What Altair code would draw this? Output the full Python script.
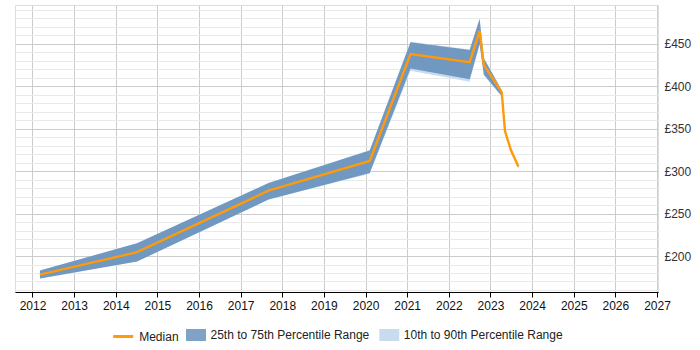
import altair as alt
import pandas as pd

# ---- data ----
years = [2012.18, 2014.51, 2017.67, 2020.10, 2021.08, 2022.50, 2022.74, 2022.84, 2023.27, 2023.35, 2023.49, 2023.67]
median = [178.0, 204.5, 277.0, 312.0, 438.0, 428.5, 465.5, 425.3, 393.2, 347.0, 325.0, 305.5]
p25 = [173.5, 193.5, 266.5, 298.0, 421.0, 408.5, 450.0, 414.0, 388.5, 345.5, 323.5, 304.0]
p75 = [183.0, 215.0, 286.0, 324.5, 452.0, 443.0, 479.5, 433.0, 395.5, 348.5, 326.5, 307.0]
p10 = [173.5, 193.5, 266.5, 297.0, 418.5, 405.5, 449.0, 413.0, 388.0, 345.0, 323.0, 303.5]
p90 = [183.0, 215.0, 286.0, 325.0, 452.5, 443.5, 480.0, 433.5, 396.0, 349.0, 327.0, 307.5]

x_ticks = list(range(2012, 2028))
y_grid = list(range(160, 491, 10))

series_names = ["Median", "25th to 75th Percentile Range", "10th to 90th Percentile Range"]
series_colors = ["#ff9a0a", "#4a7aae", "#c9dcef"]

df = pd.DataFrame({"year": years, "median": median, "p25": p25, "p75": p75, "p10": p10, "p90": p90})

FONT = "Liberation Sans"
RECT = "M-1,-0.6H1V0.6H-1Z"


def make_legend(x, sym_type, **kw):
    return alt.Legend(
        title=None,
        orient="none",
        legendX=x,
        legendY=320,
        direction="horizontal",
        symbolType=sym_type,
        symbolSize=400,
        labelFont=FONT,
        labelFontSize=12,
        labelColor="#222222",
        labelOffset=4.5,
        padding=0,
        **kw,
    )


x_scale = alt.Scale(domain=[2011.58, 2027.024], nice=False, zero=False)
x_axis = alt.Axis(
    title=None,
    values=x_ticks,
    format="d",
    labelFont=FONT,
    labelFontSize=12,
    labelColor="#111111",
    labelPadding=3,
    tickSize=5,
    tickColor="#000000",
    domainColor="#000000",
    gridColor="#cccccc",
    labelFlush=False,
    labelOverlap=False,
)

y_scale = alt.Scale(domain=[157.6, 495.9], nice=False, zero=False)
y_axis = alt.Axis(
    title=None,
    orient="right",
    values=y_grid,
    labelExpr="datum.value % 50 === 0 ? '£' + datum.value : ''",
    labelFont=FONT,
    labelFontSize=12,
    labelColor="#333333",
    labelPadding=6,
    ticks=False,
    domain=False,
    labelOverlap=False,
    gridColor={"condition": {"test": "datum.value % 50 === 0", "value": "#cccccc"}, "value": "#e9e9e9"},
)


def X():
    return alt.X("year:Q", scale=x_scale, axis=x_axis)


def Y(field):
    return alt.Y(field, scale=y_scale, axis=y_axis)


base = alt.Chart(df)

band90 = base.transform_calculate(series="'" + series_names[2] + "'").mark_area(opacity=1).encode(
    x=X(),
    y=Y("p10:Q"),
    y2="p90:Q",
    fill=alt.Fill(
        "series:N",
        scale=alt.Scale(domain=[series_names[2]], range=[series_colors[2]]),
        legend=make_legend(364.3, RECT, symbolStrokeWidth=0, symbolOpacity=1),
    ),
)

band50 = base.transform_calculate(series="'" + series_names[1] + "'").mark_area(opacity=0.7).encode(
    x=X(),
    y=Y("p25:Q"),
    y2="p75:Q",
    fill=alt.Fill(
        "series:N",
        scale=alt.Scale(domain=[series_names[1]], range=[series_colors[1]]),
        legend=make_legend(171.0, RECT, symbolStrokeWidth=0, symbolOpacity=0.7),
    ),
)

line = base.transform_calculate(series="'" + series_names[0] + "'").mark_line(strokeWidth=2.4).encode(
    x=X(),
    y=Y("median:Q"),
    stroke=alt.Stroke(
        "series:N",
        scale=alt.Scale(domain=[series_names[0]], range=[series_colors[0]]),
        legend=make_legend(96.7, "stroke", symbolStrokeWidth=3),
    ),
)

chart = (
    alt.layer(band90, band50, line)
    .resolve_scale(fill="independent", stroke="independent")
    .resolve_legend(fill="independent", stroke="independent")
    .properties(
        width=643,
        height=287,
        autosize=alt.AutoSizeParams(type="none"),
        padding={"left": 15, "top": 5, "right": 42, "bottom": 58},
    )
    .configure_view(stroke=None)
    .configure(background="white")
)

chart.save("out.html", embed_options={"renderer": "svg", "actions": False})
